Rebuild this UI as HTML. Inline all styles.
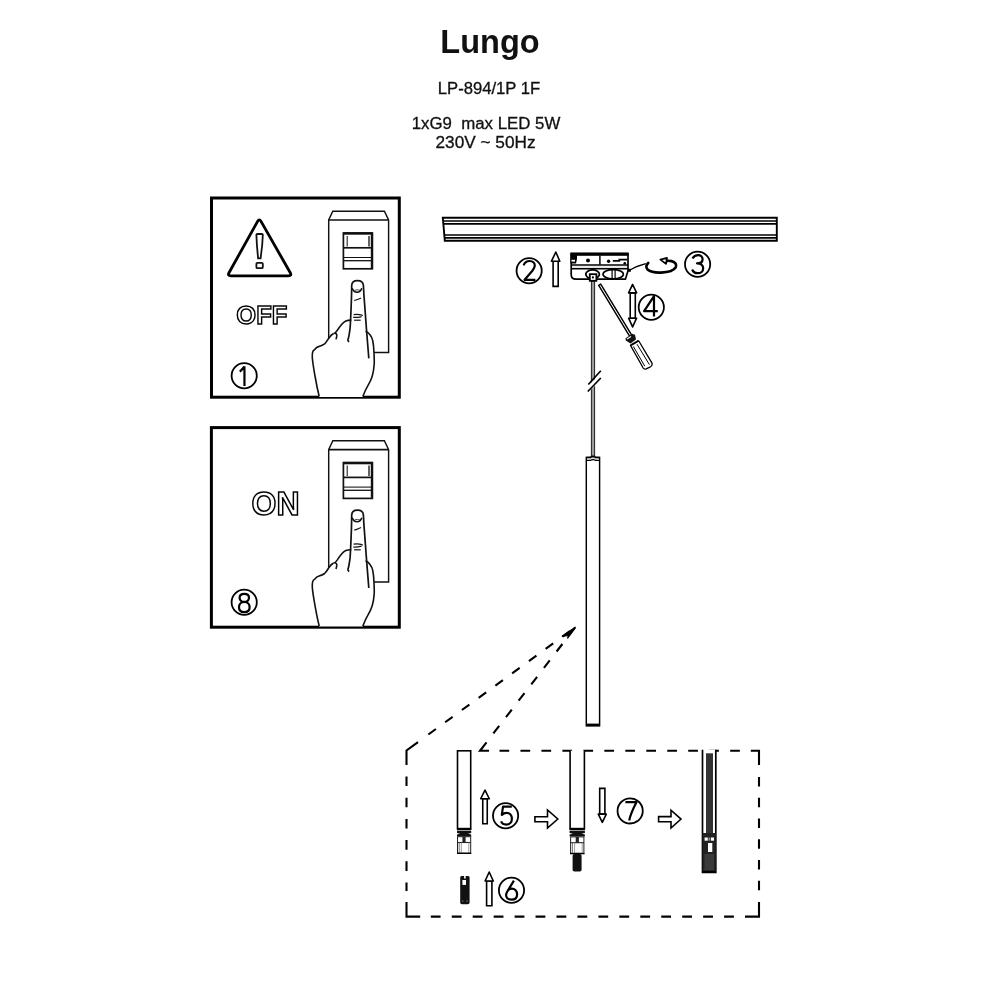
<!DOCTYPE html>
<html><head><meta charset="utf-8">
<style>
html,body{margin:0;padding:0;background:#fff;width:1000px;height:1000px;overflow:hidden}
svg{display:block;position:absolute;left:0;top:0;will-change:transform}
text{font-family:"Liberation Sans",sans-serif}
</style></head>
<body>
<svg width="1000" height="1000" viewBox="0 0 1000 1000">


<text x="490" y="52.7" text-anchor="middle" font-size="32.5" font-weight="bold" fill="#111">Lungo</text>
<text x="489" y="93.6" text-anchor="middle" font-size="16" fill="#111" stroke="#111" stroke-width="0.3" textLength="102.5" lengthAdjust="spacingAndGlyphs">LP-894/1P 1F</text>
<text x="486" y="129.4" text-anchor="middle" font-size="16" fill="#111" stroke="#111" stroke-width="0.3" xml:space="preserve" textLength="148.6" lengthAdjust="spacingAndGlyphs">1xG9  max LED 5W</text>
<text x="485.5" y="147.7" text-anchor="middle" font-size="16" fill="#111" stroke="#111" stroke-width="0.3" textLength="100" lengthAdjust="spacingAndGlyphs">230V ~ 50Hz</text>
<rect x="211.5" y="198" width="187.8" height="199.2" fill="none" stroke="#000" stroke-width="3"/>
<path d="M257.6 221.36 Q259.3 218.3 261.03 221.34 L290.27 272.76 Q292 275.8 288.5 275.8 H230.8 Q227.3 275.8 229 272.74 Z" fill="none" stroke="#000" stroke-width="2.8" stroke-linejoin="round"/>
<path d="M256.4 235 Q256.3 234 257.3 234 H261.9 Q262.9 234 262.8 235 L262.2 245 L260.6 258.4 H258.1 L256.9 245 Z" fill="#fff" stroke="#111" stroke-width="1.8"/>
<rect x="256.4" y="262.8" width="6.4" height="5.4" rx="1" fill="#fff" stroke="#111" stroke-width="1.8"/>
<text x="261.8" y="323.8" text-anchor="middle" font-size="26.5" font-weight="bold" fill="#fff" stroke="#000" stroke-width="1.5" textLength="51" lengthAdjust="spacingAndGlyphs">OFF</text>
<g>
    <path d="M332.8 211.2 H384.4 L388.6 220 V352.4 H328.7 V220 Z" fill="#fff" stroke="#111" stroke-width="1.45"/>
    <line x1="328.7" y1="220" x2="388.6" y2="220" stroke="#111" stroke-width="1.6"/>
    <rect x="343.4" y="233" width="29" height="35.8" fill="#fff" stroke="#111" stroke-width="1.7"/>
    <line x1="343.4" y1="233.5" x2="372.4" y2="233.5" stroke="#111" stroke-width="2.4"/>
    <line x1="371.6" y1="233" x2="371.6" y2="268" stroke="#111" stroke-width="1.6"/>
    <line x1="347.2" y1="236" x2="347.2" y2="246.5" stroke="#222" stroke-width="1.1"/>
    <line x1="369" y1="236" x2="369" y2="246.5" stroke="#222" stroke-width="1.4"/>
    <path d="M344 247.8 H371.6" stroke="#111" stroke-width="1.7"/>
    <line x1="343.4" y1="257.5" x2="372.4" y2="257.5" stroke="#111" stroke-width="1.05"/>
    <line x1="343.4" y1="260.7" x2="372.4" y2="260.7" stroke="#111" stroke-width="1.3"/>
    <!-- hand fill -->
    <path d="M319 397 L316 383 C314 374 312.5 365 312.3 358 C312.2 352 314 348 319 346.5 C322 345.5 326 342 328.8 338 L333 333.3 C336 330 339 325.5 342 323.8 C345 321.5 348 320.5 351.3 320.1 L351.7 285 C352 282 354.5 280.6 357.4 280.6 C360.5 280.6 363.2 282 363.4 285 L365.4 331.2 C368 332.5 371 335 372.6 340.5 C374 346 374.4 357 374.3 364.3 C374 370 373.5 374 372.2 376.2 C370.5 381 367.9 385.6 366 389 L362.8 397 Z" fill="#fff"/>
    <!-- finger -->
    <path d="M349.2 341.8 C348.2 341.2 347.7 340.5 347.9 339.7 C348.8 337.6 349.5 333 350.1 327.8 C350.6 322 351 310 351.4 300 C351.6 293 351.7 288 351.7 285.5 C351.8 282.2 354.3 280.6 357.4 280.6 C360.6 280.6 363.2 282.2 363.4 285.5 C363.6 290 364 297 364.6 304 C365.2 313 366 322 366.6 331 C367.4 342 368.2 350 368.8 358.4" fill="none" stroke="#111" stroke-width="1.7"/>
    <path d="M352.2 288.2 C353.5 291.8 355.4 292.2 357.1 292.2 C359 292.2 360.6 291.6 361.8 288.2" fill="none" stroke="#111" stroke-width="1.6"/>
    <path d="M354.6 290.4 C356.4 289.6 358.2 289.6 360 290.4" fill="none" stroke="#333" stroke-width="0.9"/>
    <path d="M354.3 300.6 C356.5 299.8 358.8 299.2 361 297.9" fill="none" stroke="#111" stroke-width="1.2"/>
    <path d="M353.6 314.6 C356 314.2 358.8 314.2 361 314.8 C361.8 315 362.4 315.3 362.8 315.6" fill="none" stroke="#111" stroke-width="1.2"/>
    <path d="M353.2 317.4 C356 317.6 359 317.3 361.6 316.6" fill="none" stroke="#111" stroke-width="1.2"/>
    <path d="M354.1 320.2 H360.7" fill="none" stroke="#111" stroke-width="1.2"/>
    <!-- back of hand / knuckles -->
    <path d="M351.3 320.1 C349 320.2 347.4 320.4 345.8 321 C344 321.8 342.8 323 341.6 324.4 C340 326.2 338.6 328.3 337.3 330.3 C336.4 331.6 335.6 332.6 334.8 333.3" fill="none" stroke="#111" stroke-width="1.6"/>
    <path d="M333.6 333.4 C335.4 332.8 336.8 333.6 336.8 335.2 C336.8 336.8 336.4 338 336 339.4" fill="none" stroke="#111" stroke-width="1.6"/>
    <path d="M319.2 396.5 C317.6 390 316.2 383 315 376 C313.8 369 312.6 362.5 312.3 357.5 C312.1 353.8 313 350.5 314.4 349.8 C316 347.8 317.4 346.8 319 346.4 C321 345.8 322.8 345.2 324.6 343.9 C326.2 342.6 327.5 340.2 328.8 338.2 C330.2 336 331.6 334.3 333.6 333.4" fill="none" stroke="#111" stroke-width="1.6"/>
    <path d="M365.6 331.2 C367.4 332 368.8 333.2 369.8 334.6 C371.4 336.6 372.4 338.4 372.8 341 C373.6 345 373.9 350 374 353.3 C374.2 357.5 374.4 361 374.2 364.3 C373.9 368.5 373.4 372.5 372.2 376.2 C371 380 369.6 382.8 367.9 385.6 C366.2 388.4 364.4 392.4 362.8 396.5" fill="none" stroke="#111" stroke-width="1.6"/>
  </g>
<circle cx="244.2" cy="375.7" r="12.6" fill="none" stroke="#000" stroke-width="1.8"/><path d="M244.45 386 V366.2 M244.45 366.5 C243 368.5 241.5 370.2 239.8 371.6" fill="none" stroke="#000" stroke-width="2.2" stroke-linecap="butt" stroke-linejoin="round"/>
<rect x="211.4" y="427.6" width="187.9" height="199.6" fill="none" stroke="#000" stroke-width="3"/>
<text x="275.5" y="515.3" text-anchor="middle" font-size="33.5" font-weight="bold" fill="#fff" stroke="#000" stroke-width="1.55" textLength="48" lengthAdjust="spacingAndGlyphs">ON</text>
<g transform="translate(0 229.6)">
    <path d="M332.8 211.2 H384.4 L388.6 220 V352.4 H328.7 V220 Z" fill="#fff" stroke="#111" stroke-width="1.45"/>
    <line x1="328.7" y1="220" x2="388.6" y2="220" stroke="#111" stroke-width="1.6"/>
    <rect x="343.4" y="233" width="29" height="35.8" fill="#fff" stroke="#111" stroke-width="1.7"/>
    <line x1="343.4" y1="233.5" x2="372.4" y2="233.5" stroke="#111" stroke-width="2.4"/>
    <line x1="371.6" y1="233" x2="371.6" y2="268" stroke="#111" stroke-width="1.6"/>
    <line x1="347.2" y1="236" x2="347.2" y2="246.5" stroke="#222" stroke-width="1.1"/>
    <line x1="369" y1="236" x2="369" y2="246.5" stroke="#222" stroke-width="1.4"/>
    <path d="M344 247.8 H371.6" stroke="#111" stroke-width="1.7"/>
    <line x1="343.4" y1="257.5" x2="372.4" y2="257.5" stroke="#111" stroke-width="1.05"/>
    <line x1="343.4" y1="260.7" x2="372.4" y2="260.7" stroke="#111" stroke-width="1.3"/>
    <!-- hand fill -->
    <path d="M319 397 L316 383 C314 374 312.5 365 312.3 358 C312.2 352 314 348 319 346.5 C322 345.5 326 342 328.8 338 L333 333.3 C336 330 339 325.5 342 323.8 C345 321.5 348 320.5 351.3 320.1 L351.7 285 C352 282 354.5 280.6 357.4 280.6 C360.5 280.6 363.2 282 363.4 285 L365.4 331.2 C368 332.5 371 335 372.6 340.5 C374 346 374.4 357 374.3 364.3 C374 370 373.5 374 372.2 376.2 C370.5 381 367.9 385.6 366 389 L362.8 397 Z" fill="#fff"/>
    <!-- finger -->
    <path d="M349.2 341.8 C348.2 341.2 347.7 340.5 347.9 339.7 C348.8 337.6 349.5 333 350.1 327.8 C350.6 322 351 310 351.4 300 C351.6 293 351.7 288 351.7 285.5 C351.8 282.2 354.3 280.6 357.4 280.6 C360.6 280.6 363.2 282.2 363.4 285.5 C363.6 290 364 297 364.6 304 C365.2 313 366 322 366.6 331 C367.4 342 368.2 350 368.8 358.4" fill="none" stroke="#111" stroke-width="1.7"/>
    <path d="M352.2 288.2 C353.5 291.8 355.4 292.2 357.1 292.2 C359 292.2 360.6 291.6 361.8 288.2" fill="none" stroke="#111" stroke-width="1.6"/>
    <path d="M354.6 290.4 C356.4 289.6 358.2 289.6 360 290.4" fill="none" stroke="#333" stroke-width="0.9"/>
    <path d="M354.3 300.6 C356.5 299.8 358.8 299.2 361 297.9" fill="none" stroke="#111" stroke-width="1.2"/>
    <path d="M353.6 314.6 C356 314.2 358.8 314.2 361 314.8 C361.8 315 362.4 315.3 362.8 315.6" fill="none" stroke="#111" stroke-width="1.2"/>
    <path d="M353.2 317.4 C356 317.6 359 317.3 361.6 316.6" fill="none" stroke="#111" stroke-width="1.2"/>
    <path d="M354.1 320.2 H360.7" fill="none" stroke="#111" stroke-width="1.2"/>
    <!-- back of hand / knuckles -->
    <path d="M351.3 320.1 C349 320.2 347.4 320.4 345.8 321 C344 321.8 342.8 323 341.6 324.4 C340 326.2 338.6 328.3 337.3 330.3 C336.4 331.6 335.6 332.6 334.8 333.3" fill="none" stroke="#111" stroke-width="1.6"/>
    <path d="M333.6 333.4 C335.4 332.8 336.8 333.6 336.8 335.2 C336.8 336.8 336.4 338 336 339.4" fill="none" stroke="#111" stroke-width="1.6"/>
    <path d="M319.2 396.5 C317.6 390 316.2 383 315 376 C313.8 369 312.6 362.5 312.3 357.5 C312.1 353.8 313 350.5 314.4 349.8 C316 347.8 317.4 346.8 319 346.4 C321 345.8 322.8 345.2 324.6 343.9 C326.2 342.6 327.5 340.2 328.8 338.2 C330.2 336 331.6 334.3 333.6 333.4" fill="none" stroke="#111" stroke-width="1.6"/>
    <path d="M365.6 331.2 C367.4 332 368.8 333.2 369.8 334.6 C371.4 336.6 372.4 338.4 372.8 341 C373.6 345 373.9 350 374 353.3 C374.2 357.5 374.4 361 374.2 364.3 C373.9 368.5 373.4 372.5 372.2 376.2 C371 380 369.6 382.8 367.9 385.6 C366.2 388.4 364.4 392.4 362.8 396.5" fill="none" stroke="#111" stroke-width="1.6"/>
  </g>
<circle cx="244.2" cy="602.2" r="12.6" fill="none" stroke="#000" stroke-width="1.8"/><path d="M244.3 601.9 C247.1 601.9 249 600 249 597.7 C249 595.4 247.1 593.9 244.3 593.9 C241.5 593.9 239.6 595.4 239.6 597.7 C239.6 600 241.5 601.9 244.3 601.9 Z M244.3 601.9 C247.6 601.9 249.6 604.3 249.6 607.2 C249.6 610.2 247.5 612.1 244.3 612.1 C241.1 612.1 239 610.2 239 607.2 C239 604.3 241 601.9 244.3 601.9 Z" fill="none" stroke="#000" stroke-width="2.2" stroke-linecap="butt" stroke-linejoin="round"/>
<path d="M442.8 217.8 H776.8 V240.8 H444.8 L443.8 229 Z" fill="#fff" stroke="#000" stroke-width="1.9"/>
<line x1="443.3" y1="221" x2="776.8" y2="221" stroke="#000" stroke-width="1.7"/>
<line x1="443.5" y1="223.9" x2="776.8" y2="223.9" stroke="#000" stroke-width="1.6"/>
<line x1="444.2" y1="235" x2="776.8" y2="235" stroke="#000" stroke-width="1.6"/>
<line x1="444.4" y1="237.8" x2="776.8" y2="237.8" stroke="#000" stroke-width="1.7"/>
<circle cx="529.15" cy="270.7" r="12.6" fill="none" stroke="#000" stroke-width="1.8"/><path d="M523.6 265.3 C524.6 262.6 526.8 261 529.6 261 C532.6 261 534.8 263.1 534.8 265.6 C534.8 267.6 533.6 269.2 532.4 270.7 L524.6 279.8 H535.4" fill="none" stroke="#000" stroke-width="2.2" stroke-linecap="butt" stroke-linejoin="round"/>
<path d="M553.1 286.4 V261.2 H558.2 V286.4 Z" fill="#fff" stroke="#000" stroke-width="1.6" stroke-linejoin="miter"/><path d="M551.5 261.2 L555.8 252 L559.8 261.2 Z" fill="#fff" stroke="#000" stroke-width="1.6" stroke-linejoin="round"/>
<path d="M571.2 253.5 H628 V270.8 L625.4 279.2 H576 C572.8 279.2 571.2 277 571.2 274.5 Z" fill="#fff" stroke="#000" stroke-width="1.7"/>
<rect x="570.5" y="252.6" width="58" height="3.2" fill="#000"/>
<path d="M570.5 255 H577 V259 L576 263.5 H570.5 Z" fill="#000"/>
<rect x="571.5" y="259.8" width="3.5" height="1.8" fill="#fff"/>
<line x1="599.9" y1="255.6" x2="599.9" y2="264.7" stroke="#000" stroke-width="1.5"/>
<circle cx="588" cy="260.4" r="2" fill="#000"/>
<circle cx="608.6" cy="261.3" r="1.7" fill="#000"/>
<path d="M612.8 260.9 H619.3 V259.6 H627" fill="none" stroke="#000" stroke-width="1.7"/>
<circle cx="624.8" cy="263.2" r="1.3" fill="#000"/>
<line x1="571" y1="265.1" x2="628" y2="265.1" stroke="#000" stroke-width="1.5"/>
<line x1="572" y1="267.1" x2="627" y2="267.1" stroke="#d8d8d8" stroke-width="1.2"/>
<line x1="572" y1="268.8" x2="628" y2="268.8" stroke="#000" stroke-width="1.5"/>
<ellipse cx="592.6" cy="274.3" rx="6.8" ry="4.4" fill="#fff" stroke="#000" stroke-width="1.8"/>
<ellipse cx="613.2" cy="274.2" rx="10.2" ry="4.6" fill="#fff" stroke="#000" stroke-width="1.6"/>
<line x1="612.1" y1="270" x2="612.1" y2="278.4" stroke="#000" stroke-width="1.2"/>
<line x1="615.1" y1="270" x2="615.1" y2="278.4" stroke="#000" stroke-width="1.2"/>
<rect x="628" y="268.8" width="2.8" height="3" fill="#000"/>
<rect x="591.4" y="281" width="3.2" height="175.4" fill="#9a9a9a" stroke="#222" stroke-width="1"/>
<rect x="589.8" y="274.2" width="6.6" height="6.6" fill="#fff" stroke="#000" stroke-width="1.8"/>
<circle cx="592.9" cy="277.4" r="1.1" fill="#000"/>
<polygon points="586,387.5 602,372.5 602,379.2 586,394.2" fill="#fff"/>
<line x1="588.3" y1="384.5" x2="600.8" y2="370.8" stroke="#000" stroke-width="1.7"/>
<line x1="587.8" y1="391.5" x2="600.8" y2="378" stroke="#000" stroke-width="1.7"/>
<path d="M629 270.5 L636 266.8 L645.8 263.6" fill="none" stroke="#000" stroke-width="1.4"/>
<path d="M648.2 263 C646.2 264.8 645.6 267.6 647.6 269.6 C650.6 272.2 655.6 272.8 661 272.6 C668 272.3 673.8 270.6 675.7 267.4 C677.1 264.6 675.2 262 671.6 261.1 C670.2 260.8 668.8 260.7 667.2 260.8" fill="none" stroke="#000" stroke-width="2.7" stroke-linecap="round"/>
<path d="M660.4 259.6 L667 257.8 L666 263.9 Z" fill="#fff" stroke="#000" stroke-width="1.8" stroke-linejoin="round"/>
<circle cx="697.6" cy="264.3" r="12.6" fill="none" stroke="#000" stroke-width="1.8"/><path d="M692.5 258.6 C693.6 256.5 695.5 255.1 698 255.1 C700.8 255.1 702.6 256.9 702.6 259.2 C702.6 261.7 700.4 263.3 697 263.3 C700.6 263.3 703.2 265.2 703.2 268.2 C703.2 271.3 700.8 273.2 697.6 273.2 C694.8 273.2 693 271.7 692.2 269.5" fill="none" stroke="#000" stroke-width="2.2" stroke-linecap="butt" stroke-linejoin="round"/>
<path d="M598.7 285.3 L600.7 284.1 L631.7 335.2 L629.7 336.4 Z" fill="#fff" stroke="#000" stroke-width="1.45" stroke-linejoin="round"/>
<path d="M625.5 338.3 L632.2 333.8 L635 334.8 L636 339.5 L630.5 343.5 L625.8 340.5 Z" fill="#111"/>
<path d="M627 339 L631 336.5" stroke="#fff" stroke-width="1.1"/>
<path d="M630.6 345.6 L638.8 341 L652 363.2 Q652.6 365.6 650.4 366.8 L646.2 368.8 Q644.2 369.6 643.2 368 Z" fill="#fff" stroke="#000" stroke-width="1.3" stroke-linejoin="round"/>
<path d="M630.4 345 L638.6 340.4" stroke="#000" stroke-width="1.3"/>
<line x1="633.3" y1="346.4" x2="644.8" y2="366.2" stroke="#000" stroke-width="1"/>
<line x1="637" y1="344.2" x2="649.4" y2="364.6" stroke="#000" stroke-width="1"/>
<path d="M630.2 292.9 V318.2 H635.3 V292.9 Z" fill="#fff" stroke="#000" stroke-width="1.6"/><path d="M628.6 292.9 L632.6 284.4 L636.6 292.9 Z" fill="#fff" stroke="#000" stroke-width="1.6" stroke-linejoin="round"/><path d="M628.6 318.2 L632.6 326.9 L636.6 318.2 Z" fill="#fff" stroke="#000" stroke-width="1.6" stroke-linejoin="round"/>
<circle cx="651.3" cy="307.2" r="12.6" fill="none" stroke="#000" stroke-width="1.8"/><path d="M657.8 311.2 H644.1 L654 296.2 V316.6" fill="none" stroke="#000" stroke-width="2.2" stroke-linecap="butt" stroke-linejoin="round"/>
<rect x="586.3" y="457.4" width="13.3" height="268.4" fill="#fff" stroke="#000" stroke-width="1.45"/>
<path d="M586.3 457.4 H590.4 Q591.4 456.2 593 456.2 Q594.6 456.2 595.6 457.4 H599.6" fill="#fff" stroke="#000" stroke-width="1.5"/>
<path d="M586.3 460.3 H590.5 C591.6 459.4 594.4 459.4 595.5 460.3 H599.6" fill="none" stroke="#000" stroke-width="1.2"/>
<line x1="586.3" y1="724.9" x2="599.6" y2="724.9" stroke="#000" stroke-width="2.6"/>
<g fill="none" stroke="#000" stroke-width="2.1">
  <path d="M428.38 734.51 L575.5 627" stroke-dasharray="9.3 11.45"/>
  <path d="M493.37 733.46 L575.5 627" stroke-dasharray="9.5 11.2"/>
  <path d="M418 742.2 L406.5 750.5 V765" />
  <path d="M406.5 776.5 V891" stroke-dasharray="9.6 11.6"/>
  <path d="M406.5 902 V916.6 H420.2"/>
  <path d="M430.8 916.6 H740" stroke-dasharray="9.8 11.15"/>
  <path d="M745 916.6 H759 V902"/>
  <path d="M759 777 V892" stroke-dasharray="9.5 11.25"/>
  <path d="M759 765 V750.7 H750.8"/>
  <path d="M499.5 750.7 H740" stroke-dasharray="9.7 11.27"/>
  <path d="M489 750.8 H480 L486.5 742.3"/>
</g>
<path d="M562 636.5 L575.5 627 L567.5 638.5 L568.6 635.4 Z" fill="#000" stroke="#000" stroke-width="1.2" stroke-linejoin="miter"/>
<rect x="457.5" y="750.8" width="13.2" height="78" fill="#fff" stroke="#000" stroke-width="1.6"/>
<rect x="457" y="827.8" width="14.2" height="2.4" fill="#000"/>
<path d="M457 830.8 H471.2 V833 L468 833.8 L471.2 834.4 V836.4 H457 V834.4 L460.2 833.8 L457 833 Z" fill="#111"/>
<rect x="457.5" y="836.7" width="13.2" height="16.6" fill="#fff" stroke="#222" stroke-width="1"/>
<rect x="462.4" y="836.7" width="3.2" height="5.8" fill="#222"/>
<line x1="457.5" y1="842.5" x2="470.7" y2="842.5" stroke="#222" stroke-width="1.1"/>
<line x1="459.2" y1="842.5" x2="459.2" y2="853.3" stroke="#666" stroke-width="0.9"/>
<line x1="461.3" y1="842.5" x2="461.3" y2="853.3" stroke="#888" stroke-width="0.8"/>
<line x1="468.8" y1="842.5" x2="468.8" y2="853.3" stroke="#888" stroke-width="0.8"/>
<line x1="457" y1="853.3" x2="471.2" y2="853.3" stroke="#000" stroke-width="1.4"/>
<path d="M482.75 823.7 V798.75 H487.25 V823.7 Z" fill="#fff" stroke="#000" stroke-width="1.6" stroke-linejoin="miter"/><path d="M480.7 798.75 L485 790.2 L489.3 798.75 Z" fill="#fff" stroke="#000" stroke-width="1.6" stroke-linejoin="round"/>
<circle cx="505.6" cy="815.7" r="12.6" fill="none" stroke="#000" stroke-width="1.8"/><path d="M511.8 806.7 H503 L501.8 815 C503 813.6 504.8 812.9 506.6 812.9 C509.8 812.9 511.9 815.3 511.9 818.7 C511.9 822.3 509.6 824.6 506.2 824.6 C503.8 824.6 501.9 823.4 501 821.4" fill="none" stroke="#000" stroke-width="2.2" stroke-linecap="butt" stroke-linejoin="round"/>
<path d="M534.9 816.8 H547.5 V809.9 L557.8 819 L547.5 828 V821.8 H534.9 Z" fill="#fff" stroke="#000" stroke-width="1.6" stroke-linejoin="miter"/>
<path d="M460.2 877.5 Q460.2 875.9 461.5 875.9 H464.1 V878.4 H465.7 V875.9 H468.3 Q469.6 875.9 469.6 877.5 V902.4 Q469.6 904.2 467.8 904.2 H462 Q460.2 904.2 460.2 902.4 Z" fill="#111"/>
<rect x="462.4" y="880" width="3.6" height="4.9" fill="#fff"/>
<rect x="462" y="900.5" width="1.5" height="1" fill="#777"/>
<rect x="466.3" y="900.5" width="1.5" height="1" fill="#777"/>
<path d="M486.6 905.8 V881 H491.9 V905.8 Z" fill="#fff" stroke="#000" stroke-width="1.6" stroke-linejoin="miter"/><path d="M485.1 881 L489.2 872 L493.3 881 Z" fill="#fff" stroke="#000" stroke-width="1.6" stroke-linejoin="round"/>
<circle cx="511.5" cy="890.3" r="12.6" fill="none" stroke="#000" stroke-width="1.8"/><path d="M513.9 880.6 L507.4 891.2 C506.6 892.5 506.1 893.5 506.1 895 C506.1 898 508.4 899.6 511.6 899.6 C514.9 899.6 517.1 897.6 517.1 894.4 C517.1 891.2 514.9 888.6 511.7 888.6 C509.6 888.6 508.2 889.6 507.4 891.2" fill="none" stroke="#000" stroke-width="2.2" stroke-linecap="butt" stroke-linejoin="round"/>
<path d="M570.1 750.8 V828.8 H584.4 V750.8" fill="#fff" stroke="#000" stroke-width="1.6"/>
<rect x="569.6" y="827.8" width="15.3" height="2.4" fill="#000"/>
<path d="M569.6 830.8 H584.9 V833 L581.5 833.8 L584.9 834.4 V836.4 H569.6 V834.4 L573 833.8 L569.6 833 Z" fill="#111"/>
<rect x="570.6" y="836.9" width="13.3" height="16.4" fill="#fff" stroke="#222" stroke-width="1"/>
<rect x="575.7" y="836.9" width="3.2" height="5.8" fill="#222"/>
<line x1="570.6" y1="842.7" x2="583.9" y2="842.7" stroke="#222" stroke-width="1.1"/>
<line x1="572.4" y1="842.7" x2="572.4" y2="853.3" stroke="#666" stroke-width="0.9"/>
<line x1="574.6" y1="842.7" x2="574.6" y2="853.3" stroke="#888" stroke-width="0.8"/>
<line x1="582.2" y1="842.7" x2="582.2" y2="853.3" stroke="#888" stroke-width="0.8"/>
<line x1="570" y1="853.6" x2="584.5" y2="853.6" stroke="#000" stroke-width="1.4"/>
<rect x="572.6" y="854" width="9" height="17.6" rx="1.8" fill="#111"/>
<path d="M599.7 788.4 V814.1 H604.9 V788.4 Z" fill="#fff" stroke="#000" stroke-width="1.6"/><path d="M598.3 814.1 L602.3 822.3 L606.3 814.1 Z" fill="#fff" stroke="#000" stroke-width="1.6" stroke-linejoin="round"/>
<circle cx="630.15" cy="810.9" r="12.6" fill="none" stroke="#000" stroke-width="1.8"/><path d="M625.4 802.1 H636.6 C633.5 808 630.6 814 629.2 820.4" fill="none" stroke="#000" stroke-width="2.2" stroke-linecap="butt" stroke-linejoin="round"/>
<path d="M658.6 816.6 H671 V810.2 L681 819.1 L671 828 V821.8 H658.6 Z" fill="#fff" stroke="#000" stroke-width="1.6" stroke-linejoin="miter"/>
<path d="M702.5 749.8 V872.3 H715.8 V749.8" fill="#fff" stroke="#000" stroke-width="1.7"/>
<rect x="706" y="753.3" width="7" height="79.8" fill="#333"/>
<rect x="702.5" y="833" width="13.3" height="39.3" fill="#222"/>
<rect x="704.6" y="837.5" width="3.2" height="3.2" fill="#fff"/>
<rect x="708.6" y="837.5" width="1.2" height="3.2" fill="#aaa"/>
<rect x="710.8" y="837.5" width="3.2" height="3.2" fill="#fff"/>
<rect x="708" y="843" width="4.3" height="9" fill="#fff"/>
<rect x="704.5" y="854" width="9.5" height="16" fill="#3a3a3a"/>
<line x1="702.5" y1="872" x2="715.8" y2="872" stroke="#000" stroke-width="2"/>
</svg>
</body></html>
